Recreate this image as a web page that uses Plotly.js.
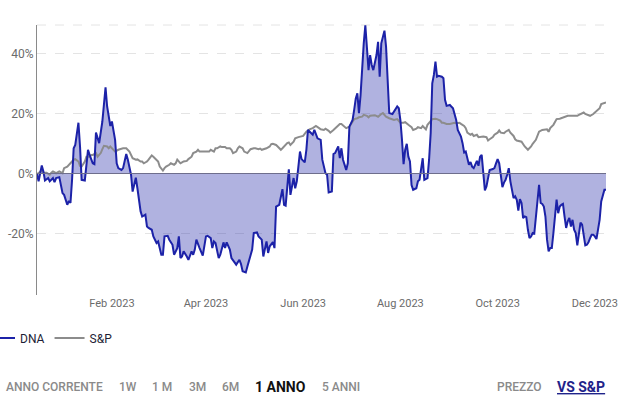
<!DOCTYPE html>
<html>
<head>
<meta charset="utf-8">
<script src="https://cdn.plot.ly/plotly-3.0.1.min.js"></script>
<style>html,body{margin:0;padding:0;background:#fff;}#chart{width:628px;height:414px;}</style>
</head>
<body>
<div id="chart"></div>
<script>
const dnaDates = ["2022-12-16","2022-12-17","2022-12-19","2022-12-20","2022-12-21","2022-12-23","2022-12-24","2022-12-26","2022-12-27","2022-12-28","2022-12-30",
"2023-01-01","2023-01-02","2023-01-03","2023-01-04","2023-01-05","2023-01-06","2023-01-07","2023-01-08","2023-01-09","2023-01-11","2023-01-12","2023-01-13","2023-01-15","2023-01-17","2023-01-18","2023-01-20","2023-01-21","2023-01-22","2023-01-24","2023-01-25","2023-01-26","2023-01-28","2023-01-29","2023-01-31",
"2023-02-01","2023-02-03","2023-02-04","2023-02-05","2023-02-07","2023-02-08","2023-02-10","2023-02-11","2023-02-12","2023-02-13","2023-02-14","2023-02-16","2023-02-17","2023-02-19","2023-02-20","2023-02-22","2023-02-23","2023-02-24","2023-02-26","2023-02-27",
"2023-03-01","2023-03-02","2023-03-04","2023-03-05","2023-03-06","2023-03-08","2023-03-09","2023-03-11","2023-03-12","2023-03-14","2023-03-15","2023-03-16","2023-03-17","2023-03-18","2023-03-20","2023-03-21","2023-03-23","2023-03-24","2023-03-25","2023-03-26","2023-03-28","2023-03-29","2023-03-30",
"2023-04-01","2023-04-02","2023-04-04","2023-04-05","2023-04-06","2023-04-07","2023-04-09","2023-04-10","2023-04-12","2023-04-13","2023-04-14","2023-04-16","2023-04-17","2023-04-19","2023-04-20","2023-04-22","2023-04-23","2023-04-24","2023-04-26","2023-04-27","2023-04-29","2023-04-30",
"2023-05-01","2023-05-03","2023-05-04","2023-05-06","2023-05-07","2023-05-09","2023-05-10","2023-05-11","2023-05-13","2023-05-14","2023-05-15","2023-05-17","2023-05-19","2023-05-20","2023-05-21","2023-05-23","2023-05-24","2023-05-26","2023-05-27","2023-05-28","2023-05-30","2023-05-31",
"2023-06-02","2023-06-03","2023-06-04","2023-06-05","2023-06-07","2023-06-08","2023-06-10","2023-06-12","2023-06-13","2023-06-15","2023-06-16","2023-06-17","2023-06-19","2023-06-20","2023-06-21","2023-06-23","2023-06-24","2023-06-25","2023-06-26","2023-06-28","2023-06-29","2023-06-30",
"2023-07-02","2023-07-03","2023-07-04","2023-07-05","2023-07-06","2023-07-07","2023-07-08","2023-07-09","2023-07-10","2023-07-12","2023-07-13","2023-07-14","2023-07-15","2023-07-17","2023-07-18","2023-07-19","2023-07-20","2023-07-22","2023-07-23","2023-07-24","2023-07-25","2023-07-27","2023-07-28","2023-07-30","2023-07-31",
"2023-08-01","2023-08-02","2023-08-03","2023-08-04","2023-08-05","2023-08-06","2023-08-07","2023-08-08","2023-08-09","2023-08-11","2023-08-12","2023-08-13","2023-08-14","2023-08-15","2023-08-16","2023-08-18","2023-08-19","2023-08-20","2023-08-21","2023-08-22","2023-08-23","2023-08-24","2023-08-25","2023-08-27","2023-08-28","2023-08-29","2023-08-30",
"2023-09-01","2023-09-03","2023-09-04","2023-09-05","2023-09-06","2023-09-08","2023-09-09","2023-09-10","2023-09-11","2023-09-12","2023-09-13","2023-09-14","2023-09-15","2023-09-16","2023-09-17","2023-09-18","2023-09-19","2023-09-20","2023-09-21","2023-09-22","2023-09-23","2023-09-24","2023-09-25","2023-09-26","2023-09-28","2023-09-29","2023-09-30",
"2023-10-01","2023-10-02","2023-10-03","2023-10-04","2023-10-05","2023-10-06","2023-10-07","2023-10-08","2023-10-09","2023-10-10","2023-10-11","2023-10-12","2023-10-13","2023-10-14","2023-10-15","2023-10-16","2023-10-17","2023-10-18","2023-10-19","2023-10-20","2023-10-21","2023-10-22","2023-10-23","2023-10-24","2023-10-25","2023-10-26","2023-10-27","2023-10-28","2023-10-29","2023-10-30","2023-10-31",
"2023-11-01","2023-11-02","2023-11-03","2023-11-04","2023-11-05","2023-11-06","2023-11-07","2023-11-08","2023-11-09","2023-11-10","2023-11-11","2023-11-12","2023-11-13","2023-11-14","2023-11-15","2023-11-16","2023-11-17","2023-11-18","2023-11-19","2023-11-20","2023-11-21","2023-11-22","2023-11-23","2023-11-24","2023-11-25","2023-11-26","2023-11-27","2023-11-28","2023-11-29","2023-11-30",
"2023-12-01","2023-12-02","2023-12-04","2023-12-05","2023-12-07","2023-12-08"];
const dnaValues = [0,-2.5,2.8,0.8,-2.2,-1.4,-2.5,-1.4,-2.8,-1.4,-1.1,
-6.4,-7,-8.6,-10.3,-9,-9.7,-2,8.5,9.6,17,9.1,-2,-2.2,8,6.3,3.5,3.2,13.7,10.2,14.6,17.4,28.8,22.4,15.9,
17.4,11.3,3.5,1.9,1.3,1.9,6.6,4.7,2.4,-0.3,-5.9,-1.3,-4.8,-12.5,-14.2,-13.6,-17.5,-18,-18.6,-20.8,
-23,-22.5,-26.9,-26.9,-20.8,-20.6,-21.9,-23.6,-26.9,-24.7,-20.8,-28,-27.5,-25.8,-27.5,-28.6,-25.8,-26.9,-25.2,-21.9,-24.7,-25.8,-27.2,
-20.8,-20.6,-21.4,-24.7,-22.5,-23,-28,-26.9,-22.8,-24.7,-22.8,-25.2,-28,-29.7,-30.2,-28.6,-30,-32.4,-32.8,-30.8,-27.5,-25.2,
-19.7,-19.5,-20.8,-21.9,-27.5,-22.5,-26.3,-24.1,-22.7,-24.7,-10.9,-10.3,-5.1,-10.3,-10.6,1.5,-7,-1.4,-4.8,-2.5,7.4,4.9,
3.8,8,14.6,14,13,14.6,11.8,11.3,4.7,0.2,-0.3,-6.2,-5.9,6.6,6.9,9.1,5.2,8.5,4.7,1.3,3.5,15.7,
17.9,21.3,25.1,26.8,20.2,26.2,35.6,43.4,49.4,34.5,39.5,36.2,34.5,39.5,43.9,32.3,43.4,47.6,42.3,30.7,20.2,19.9,20.7,22.4,21.8,
17.9,11.3,3.2,8,10,5.7,4.1,-3.7,-5.3,-4.8,-2.5,-2,1.3,5.2,-2,-1.4,4.7,13.5,30.1,32.9,37.3,32.3,32.6,32.3,31.8,24.6,22.6,
22.9,21.8,20.2,17.9,14.6,12.4,10.2,7.1,7.4,4.7,3,3.9,2.4,1.9,3.5,4.3,2.7,5.7,6.3,0.8,-5.5,-4.2,-0.9,1.3,1.6,1.9,3.5,
4.9,3.5,-0.7,-4.4,-2.9,-2,-0.3,1.9,-2.5,-5.3,-8.1,-7.5,-8.6,-12.2,-8.4,-9.7,-14.7,-14.2,-14.4,-18.6,-21.4,-20.8,-19.7,-19.9,-14.2,-7.5,-3.7,-9.7,-10,-10.9,-14.2,
-21.9,-25.8,-24.7,-24.7,-19.7,-14.2,-8.6,-13.1,-10.9,-10.3,-10,-14.2,-18,-15.8,-14.7,-17.5,-15.3,-18.6,-19.7,-23.8,-19.7,-16.2,-16.9,-20.8,-23.8,-23.6,-22.8,-21.4,-20.3,-20.3,
-20.8,-21.7,-15.3,-9.2,-5.3,-5.3];

const spDates = ["2022-12-16","2022-12-17","2022-12-19","2022-12-20","2022-12-22","2022-12-24","2022-12-25","2022-12-26","2022-12-28","2022-12-29","2022-12-30",
"2023-01-01","2023-01-02","2023-01-04","2023-01-05","2023-01-06","2023-01-08","2023-01-09","2023-01-11","2023-01-12","2023-01-13","2023-01-15","2023-01-16","2023-01-18","2023-01-19","2023-01-20","2023-01-22","2023-01-23","2023-01-25","2023-01-26","2023-01-27","2023-01-29","2023-01-30","2023-01-31",
"2023-02-02","2023-02-03","2023-02-05","2023-02-06","2023-02-08","2023-02-09","2023-02-10","2023-02-12","2023-02-13","2023-02-14","2023-02-16","2023-02-17","2023-02-19","2023-02-20","2023-02-21","2023-02-23","2023-02-24","2023-02-26","2023-02-27",
"2023-03-01","2023-03-02","2023-03-03","2023-03-05","2023-03-06","2023-03-07","2023-03-09","2023-03-10","2023-03-12","2023-03-13","2023-03-14","2023-03-16","2023-03-17","2023-03-18","2023-03-20","2023-03-21","2023-03-23","2023-03-24","2023-03-26","2023-03-27","2023-03-28","2023-03-30","2023-03-31",
"2023-04-02","2023-04-03","2023-04-04","2023-04-06","2023-04-07","2023-04-08","2023-04-10","2023-04-11","2023-04-13","2023-04-14","2023-04-16","2023-04-17","2023-04-18","2023-04-20","2023-04-21","2023-04-22","2023-04-24","2023-04-25","2023-04-27","2023-04-28","2023-04-29",
"2023-05-01","2023-05-02","2023-05-04","2023-05-05","2023-05-06","2023-05-08","2023-05-09","2023-05-11","2023-05-12","2023-05-13","2023-05-15","2023-05-16","2023-05-18","2023-05-19","2023-05-20","2023-05-22","2023-05-23","2023-05-24","2023-05-26","2023-05-27","2023-05-29","2023-05-30",
"2023-06-01","2023-06-03","2023-06-05","2023-06-07","2023-06-09","2023-06-11","2023-06-12","2023-06-14","2023-06-15","2023-06-17","2023-06-18","2023-06-20","2023-06-22","2023-06-24","2023-06-25","2023-06-27","2023-06-28","2023-06-30",
"2023-07-02","2023-07-03","2023-07-05","2023-07-06","2023-07-08","2023-07-09","2023-07-11","2023-07-12","2023-07-13","2023-07-15","2023-07-16","2023-07-18","2023-07-19","2023-07-20","2023-07-21","2023-07-22","2023-07-23","2023-07-25","2023-07-27","2023-07-28","2023-07-30","2023-07-31",
"2023-08-01","2023-08-03","2023-08-04","2023-08-06","2023-08-08","2023-08-09","2023-08-11","2023-08-12","2023-08-14","2023-08-15","2023-08-17","2023-08-18","2023-08-20","2023-08-21","2023-08-23","2023-08-24","2023-08-26","2023-08-27","2023-08-28","2023-08-30",
"2023-09-01","2023-09-02","2023-09-04","2023-09-05","2023-09-07","2023-09-08","2023-09-10","2023-09-11","2023-09-12","2023-09-14","2023-09-15","2023-09-16","2023-09-18","2023-09-19","2023-09-21","2023-09-22","2023-09-24","2023-09-25","2023-09-26","2023-09-28","2023-09-29",
"2023-10-01","2023-10-02","2023-10-03","2023-10-05","2023-10-06","2023-10-08","2023-10-09","2023-10-11","2023-10-12","2023-10-13","2023-10-15","2023-10-16","2023-10-18","2023-10-19","2023-10-20","2023-10-22","2023-10-23","2023-10-25","2023-10-26","2023-10-27","2023-10-29","2023-10-30",
"2023-11-01","2023-11-02","2023-11-03","2023-11-05","2023-11-06","2023-11-07","2023-11-09","2023-11-10","2023-11-11","2023-11-13","2023-11-14","2023-11-15","2023-11-17","2023-11-18","2023-11-20","2023-11-21","2023-11-22","2023-11-24","2023-11-25","2023-11-27","2023-11-28","2023-11-30",
"2023-12-01","2023-12-02","2023-12-04","2023-12-05","2023-12-07","2023-12-08"];
const spValues = [0,0.2,1.3,0.4,0.4,-0.3,0.4,0.8,0.2,0.4,0.8,
0.2,1.9,2.4,3,3.8,4.7,4.9,4.1,2.6,2.4,4.1,5.7,5.7,6.3,6.3,6.9,5.7,6.9,8.2,9.3,9.1,8.5,9.1,
8,7.4,8,8.2,8.5,8.5,8.5,7.4,6.3,5.2,4.7,4.8,4.1,4.1,3.5,4.1,4.7,6.1,5.7,
4.7,4.1,2.4,1.1,1.9,2.4,3,3.5,3,3.5,4.7,3.5,3.8,4.1,4.3,4.9,5.7,6.9,7.4,8,7.4,7.4,7.4,
7.4,7.4,8,7.4,8.5,8.5,9.1,8.9,8.9,8.5,8.5,8,6.9,7.4,8.5,9.1,8.5,7.4,6.9,7.4,8.2,
8.5,8.5,8.2,8.4,8,8.2,8.5,9.1,9.9,10,9.6,9.1,8,8.5,9.1,10.2,10.4,9.6,10.7,11.8,12.2,12.4,
12.6,14,14.8,15.2,15.9,15.2,14.8,14.6,15,14.3,13.7,14.6,15.7,16.6,16.6,15.7,15.2,15.7,
17.4,18.2,18.5,18.8,19,19.6,19.3,18.8,19.3,19.3,19.5,19,19.6,19.9,20.2,19.6,19,18.5,18.2,17.9,18.2,17.4,
17,17,17.2,16.3,15.5,14.6,15,15.5,15.2,15.9,14.8,16.3,17.4,18.2,18.3,18.2,17.7,17,17,16.6,
16.6,16.8,17,16.8,17,16.6,15.9,15.2,13.7,13,13.3,12.6,13,12.2,12.4,12.4,12.2,11.1,11.5,12.2,13,
13.7,14.4,13.7,13.5,14,14.6,13.7,12.6,11.5,11.1,10.7,10.7,9.1,8.5,8,9.1,10,11.3,13,14,14.6,14.6,
14.8,14,15.2,16.3,17.4,18.2,18.3,18.5,18.8,19,19.3,19.3,19.3,19.3,19.3,19.6,19.9,20.4,19.9,19.6,19.3,19.9,
20.4,21,21.8,23.2,23.7,23.7];

const seriesNames = ["DNA", "S&P"];
const xTickVals = ["2023-02-01","2023-04-01","2023-06-01","2023-08-01","2023-10-01","2023-12-01"];
const xTickText = ["Feb 2023","Apr 2023","Jun 2023","Aug 2023","Oct 2023","Dec 2023"];
const yTickVals = [-40,-20,0,20,40];
const yTickText = ["","-20%","0%","20%","40%"];
const periodLabels = ["ANNO CORRENTE","1W","1 M","3M","6M","1 ANNO","5 ANNI"];
const modeLabels = ["PREZZO","VS S&P"];

const BLUE = "#1c22a8";
const GRAY = "#8c8c8c";

const traces = [
  {x: dnaDates, y: dnaValues, name: seriesNames[0] + " area", type: "scatter", mode: "lines",
   fill: "tozeroy", fillcolor: "rgba(40,45,170,0.37)",
   line: {color: BLUE, width: 0}, showlegend: false, hoverinfo: "skip"},
  {x: spDates, y: spValues, name: seriesNames[1], type: "scatter", mode: "lines",
   line: {color: GRAY, width: 2}, legendrank: 2},
  {x: dnaDates, y: dnaValues, name: seriesNames[0], type: "scatter", mode: "lines",
   line: {color: BLUE, width: 2}, legendrank: 1}
];

const periodX = [4, 117, 150, 187, 220, 253, 320];
const annotations = [];
periodLabels.forEach((t, i) => {
  const active = t === "1 ANNO";
  annotations.push({
    text: active ? "<b>" + t + "</b>" : t,
    xref: "paper", yref: "paper",
    x: (periodX[i] - 37) / 569, y: (295 - 387) / 270,
    xanchor: "left", yanchor: "middle", showarrow: false,
    font: {family: "Roboto, sans-serif", size: active ? 14 : 12, color: active ? "#111111" : "#8a8a8a", weight: active ? 700 : 500}
  });
});
const modeX = [495, 555];
modeLabels.forEach((t, i) => {
  const active = i === 1;
  annotations.push({
    text: active ? "<u><b>" + t + "</b></u>" : t,
    xref: "paper", yref: "paper",
    x: (modeX[i] - 37) / 569, y: (295 - 387) / 270,
    xanchor: "left", yanchor: "middle", showarrow: false,
    font: {family: "Roboto, sans-serif", size: active ? 14 : 12, color: active ? "#1f238a" : "#8a8a8a", weight: active ? 700 : 500}
  });
});

const layout = {
  width: 628, height: 414,
  margin: {l: 37, r: 22, t: 25, b: 119, pad: 0, autoexpand: false},
  paper_bgcolor: "#ffffff", plot_bgcolor: "#ffffff",
  font: {family: "Roboto, sans-serif", color: "#666666"},
  showlegend: true,
  legend: {orientation: "h", x: (-20 - 37) / 569, xanchor: "left", y: (295 - 338) / 270, yanchor: "middle",
    font: {family: "Roboto, sans-serif", size: 12, color: "#1d1d35"}, bgcolor: "rgba(0,0,0,0)", itemwidth: 30},
  xaxis: {type: "date", range: ["2022-12-16", "2023-12-08"], tickvals: xTickVals, ticktext: xTickText,
    showgrid: false, zeroline: false, showline: false, ticks: "", tickfont: {size: 11, color: "#6b6b6b"}, fixedrange: true},
  yaxis: {range: [-40.3, 49.5], tickvals: yTickVals, ticktext: yTickText,
    showgrid: true, gridcolor: "#e4e4e4", griddash: "dash", gridwidth: 1,
    zeroline: true, zerolinecolor: "#6e6e8c", zerolinewidth: 1, zerolinelayer: "above traces",
    showline: true, linecolor: "#8a8a8a", linewidth: 1, ticks: "", tickfont: {size: 12, color: "#6b6b6b"}, fixedrange: true},
  shapes: [{type: "line", xref: "paper", yref: "paper", x0: 0, x1: 1, y0: 1, y1: 1,
    line: {color: "#e4e4e4", width: 1, dash: "dash"}, layer: "below"}],
  annotations: annotations
};

Plotly.newPlot("chart", traces, layout, {displayModeBar: false, staticPlot: true});
</script>
</body>
</html>
